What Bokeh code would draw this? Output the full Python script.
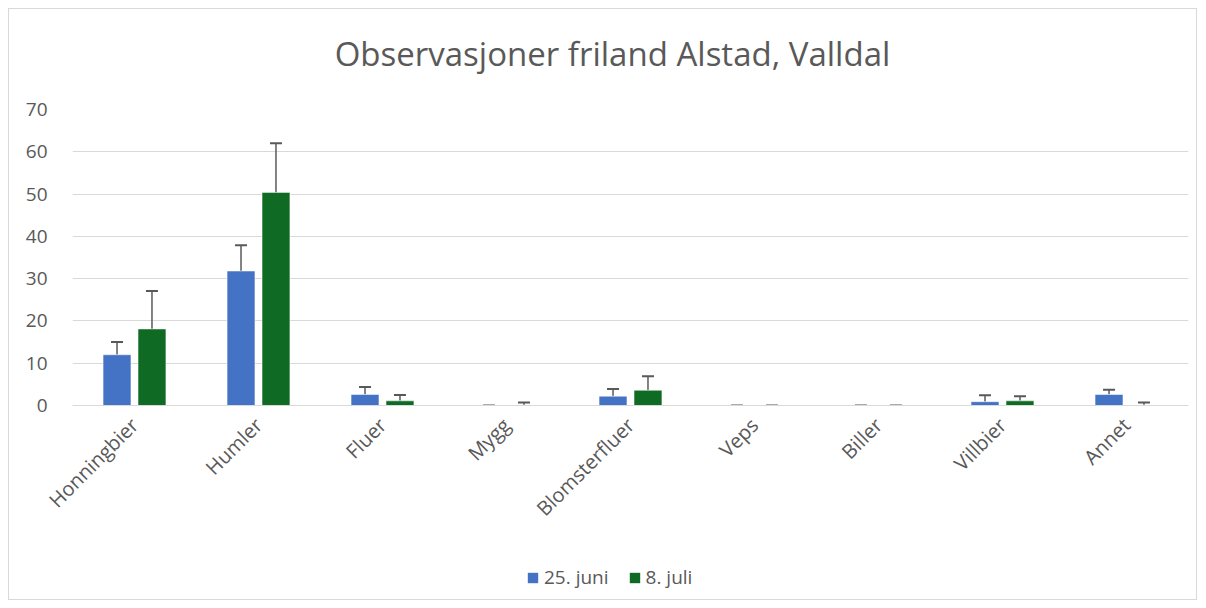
import math
from bokeh.plotting import figure
from bokeh.layouts import column
from bokeh.models import ColumnDataSource, Whisker, TeeHead, Legend, LegendItem, FactorRange, Label
from bokeh.transform import dodge
from bokeh.embed import file_html
from bokeh.resources import INLINE

title_text = "Observasjoner friland Alstad, Valldal"
categories = ["Honningbier", "Humler", "Fluer", "Mygg", "Blomsterfluer", "Veps", "Biller", "Villbier", "Annet"]
juni_values = [12.0, 31.8, 2.6, 0.0, 2.2, 0.0, 0.0, 0.9, 2.6]
juni_errors = [3.0, 6.1, 1.8, 0.0, 1.7, 0.0, 0.0, 1.5, 1.1]
juli_values = [18.1, 50.4, 1.1, 0.1, 3.6, 0.0, 0.0, 1.1, 0.1]
juli_errors = [9.0, 11.6, 1.4, 0.6, 3.3, 0.0, 0.0, 1.1, 0.6]
series_names = ["25. juni", "8. juli"]
y_ticks = [0, 10, 20, 30, 40, 50, 60, 70]

BLUE = "#4472C4"
GREEN = "#0F6A24"
GREY = "#595959"
FONT = "Open Sans"
W = 1187
FW = 1116

# ---- title strip ----
p0 = figure(width=W, height=80, x_range=(0, FW), y_range=(0, 80),
            x_axis_type=None, y_axis_type=None, output_backend="svg", toolbar_location=None,
            min_border=0)
p0.outline_line_color = None
p0.add_layout(Label(x=540, y=36, text=title_text, text_align="center", text_baseline="middle",
                    text_font=FONT, text_font_size="33px", text_color=GREY))

# ---- main chart ----
src = ColumnDataSource(dict(
    cat=categories,
    juni=juni_values,
    juni_up=[v + e for v, e in zip(juni_values, juni_errors)],
    juli=juli_values,
    juli_up=[v + e for v, e in zip(juli_values, juli_errors)],
))

p = figure(frame_width=FW, frame_height=296, x_range=FactorRange(*categories), y_range=(0, 70),
           output_backend="svg", toolbar_location=None,
           min_border_left=63, min_border_right=8, min_border_top=20, min_border_bottom=140)
p.outline_line_color = None
p.xgrid.grid_line_color = None
p.ygrid.grid_line_color = "#D9D9D9"
p.ygrid.grid_line_width = 1
p.yaxis.ticker = y_ticks
p.yaxis.axis_line_color = None
p.yaxis.major_tick_line_color = None
p.yaxis.minor_tick_line_color = None
p.yaxis.major_label_text_font = FONT
p.yaxis.major_label_text_font_size = "19px"
p.yaxis.major_label_text_color = GREY
p.yaxis.major_label_standoff = 19

p.xaxis.axis_line_color = "#D9D9D9"
p.xaxis.major_tick_line_color = None
p.xaxis.minor_tick_line_color = None
p.xaxis.major_label_orientation = math.pi / 4
p.xaxis.major_label_text_font = FONT
p.xaxis.major_label_text_font_size = "20px"
p.xaxis.major_label_text_color = GREY
p.xaxis.major_label_standoff = 10

off = 0.141
w = 0.225
p.vbar(x=dodge("cat", -off, range=p.x_range), top="juni", width=w, source=src,
       fill_color=BLUE, line_color="white", line_width=0.5)
p.vbar(x=dodge("cat", off, range=p.x_range), top="juli", width=w, source=src,
       fill_color=GREEN, line_color="white", line_width=0.5)

for col, upcol, o in [("juni", "juni_up", -off), ("juli", "juli_up", off)]:
    wk = Whisker(base=dodge("cat", o, range=p.x_range), lower=col, upper=upcol, source=src,
                 line_color=GREY, line_width=1.5,
                 upper_head=TeeHead(size=12, line_color=GREY, line_width=2),
                 lower_head=None)
    p.add_layout(wk)

# ---- legend strip ----
p2 = figure(width=W, height=54, x_range=(0, 1), y_range=(0, 1),
            x_axis_type=None, y_axis_type=None, output_backend="svg", toolbar_location=None,
            min_border=0)
p2.outline_line_color = None
g1 = p2.vbar(x=[0.5], top=[0], width=0.001, fill_color=BLUE, line_color=None)
g2 = p2.vbar(x=[0.5], top=[0], width=0.001, fill_color=GREEN, line_color=None)
legend = Legend(items=[LegendItem(label=series_names[0], renderers=[g1]),
                       LegendItem(label=series_names[1], renderers=[g2])],
                orientation="horizontal", location=(454, 9),
                label_text_font=FONT, label_text_font_size="19px", label_text_color=GREY,
                glyph_width=13, glyph_height=13, spacing=19, label_standoff=5,
                border_line_color=None, background_fill_alpha=0, margin=0, padding=0)
p2.add_layout(legend)

layout = column(p0, p, p2, spacing=0)
layout.margin = (8, 8, 8, 8)
layout.styles = {"border": "1px solid #D9D9D9"}

open("out.html", "w").write(file_html(layout, INLINE))
